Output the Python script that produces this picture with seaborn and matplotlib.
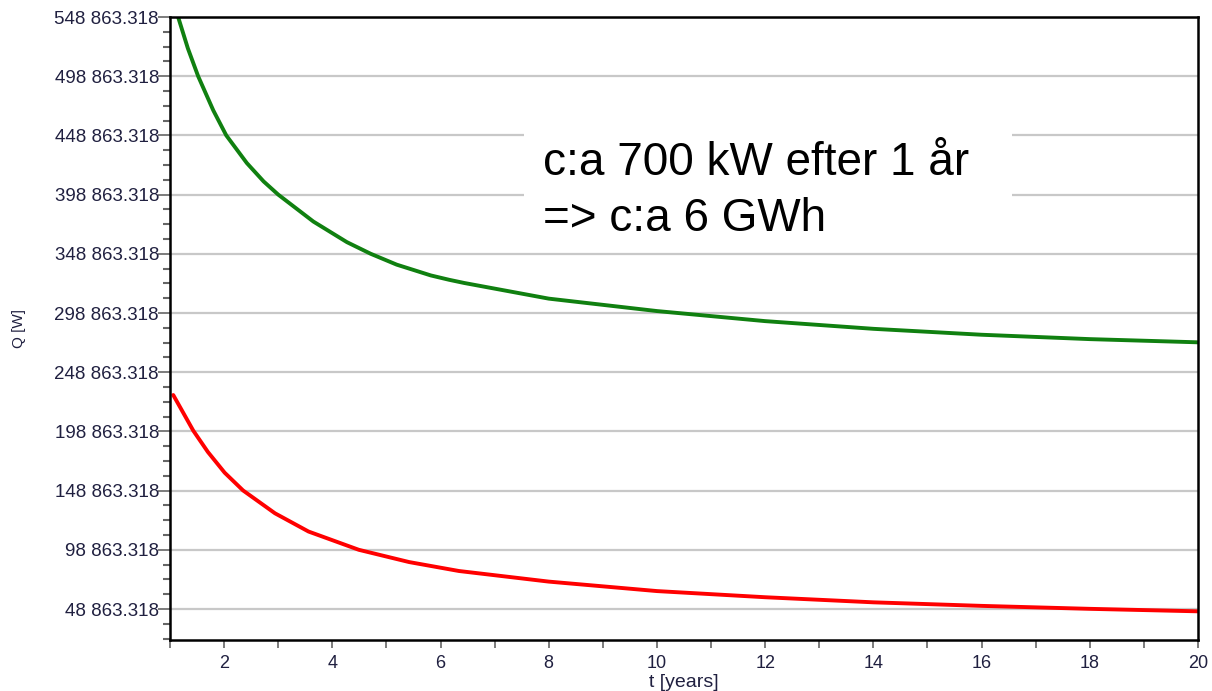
import numpy as np
import pandas as pd
import matplotlib
matplotlib.use("Agg")
import matplotlib.pyplot as plt
from matplotlib.patches import Rectangle
from matplotlib.ticker import FixedLocator, MultipleLocator, FuncFormatter
import seaborn as sns

# green curve (upper)
t_green = [1.15, 1.33, 1.52, 1.80, 2.04, 2.42, 2.73, 3.0, 3.65, 4.27, 4.71, 5.19, 5.82,
           6.16, 6.44, 8.0, 10.0, 12.0, 14.0, 16.0, 18.0, 20.0]
q_green = [548863, 522400, 498863, 470000, 448863, 425500, 410000, 398863, 376100,
           358700, 348863, 339700, 330600, 326900, 324200, 311000, 300500, 292000,
           285500, 280500, 276800, 274100]

# red curve (lower)
t_red = [1.06, 1.43, 1.70, 2.01, 2.35, 2.94, 3.56, 4.49, 5.42, 6.34, 8.0, 10.0,
         12.0, 14.0, 16.0, 18.0, 20.0]
q_red = [229600, 199500, 181500, 164000, 149000, 129700, 114300, 98863, 88500, 80960,
         72000, 64000, 58800, 54500, 51500, 49000, 46900]

y_ticks = [48863.318 + 50000 * k for k in range(11)]
x_ticks = [2, 4, 6, 8, 10, 12, 14, 16, 18, 20]
annotation = "c:a 700 kW efter 1 år\n=> c:a 6 GWh"

df = pd.concat([
    pd.DataFrame({"t": t_green, "Q": q_green, "serie": "green"}),
    pd.DataFrame({"t": t_red, "Q": q_red, "serie": "red"}),
], ignore_index=True)

sns.set_style("white")
plt.rcParams["font.family"] = ["Liberation Sans", "DejaVu Sans"]

fig = plt.figure(figsize=(12.12, 6.91), dpi=100)
ax = fig.add_axes([170 / 1212, 1 - 640 / 691, 1028 / 1212, 623 / 691])

sns.lineplot(
    data=df, x="t", y="Q", hue="serie",
    palette={"green": "#108010", "red": "#ff0000"},
    linewidth=2.8, legend=False, ax=ax,
)

ax.set_xlim(1, 20)
ax.set_ylim(22681, 548863.318)

ax.yaxis.set_major_locator(FixedLocator(y_ticks))
ax.yaxis.set_minor_locator(FixedLocator([y_ticks[0] - 25000 + 12500 * k for k in range(45)]))
ax.yaxis.set_major_formatter(FuncFormatter(
    lambda v, p: f"{int(v) // 1000} {v % 1000:07.3f}"))
ax.xaxis.set_major_locator(FixedLocator(x_ticks))
ax.xaxis.set_minor_locator(MultipleLocator(1))

ax.grid(axis="y", which="major", color="#c8c8c8", linewidth=1.6)
ax.set_axisbelow(True)
for s in ax.spines.values():
    s.set_color("black")
    s.set_linewidth(1.8)

ax.tick_params(axis="both", which="both", direction="out", color="#666666",
               labelcolor="#202040", bottom=True, left=True)
ax.tick_params(axis="y", which="major", length=9, width=1.2, labelsize=13.5, pad=-1)
ax.tick_params(axis="y", which="minor", length=5, width=1.5)
ax.tick_params(axis="x", which="both", length=6, width=1.2, labelsize=13, pad=5)

ax.set_xlabel("t [years]", fontsize=14, color="#202040", labelpad=1)
ax.set_ylabel("Q [W]", fontsize=11, color="#202040")
ax.yaxis.set_label_coords(-0.140, 0.5)

# white box behind the note, hiding the grid lines
ax.add_patch(Rectangle((0.3444, 0.626), 0.4747, 0.2215, transform=ax.transAxes,
                       facecolor="white", edgecolor="none", zorder=1.5))
ax.text(0.363, 0.801, annotation, transform=ax.transAxes, ha="left", va="top",
        fontsize=33, color="black", linespacing=1.35, zorder=3)

fig.savefig("out.png", dpi=100)
